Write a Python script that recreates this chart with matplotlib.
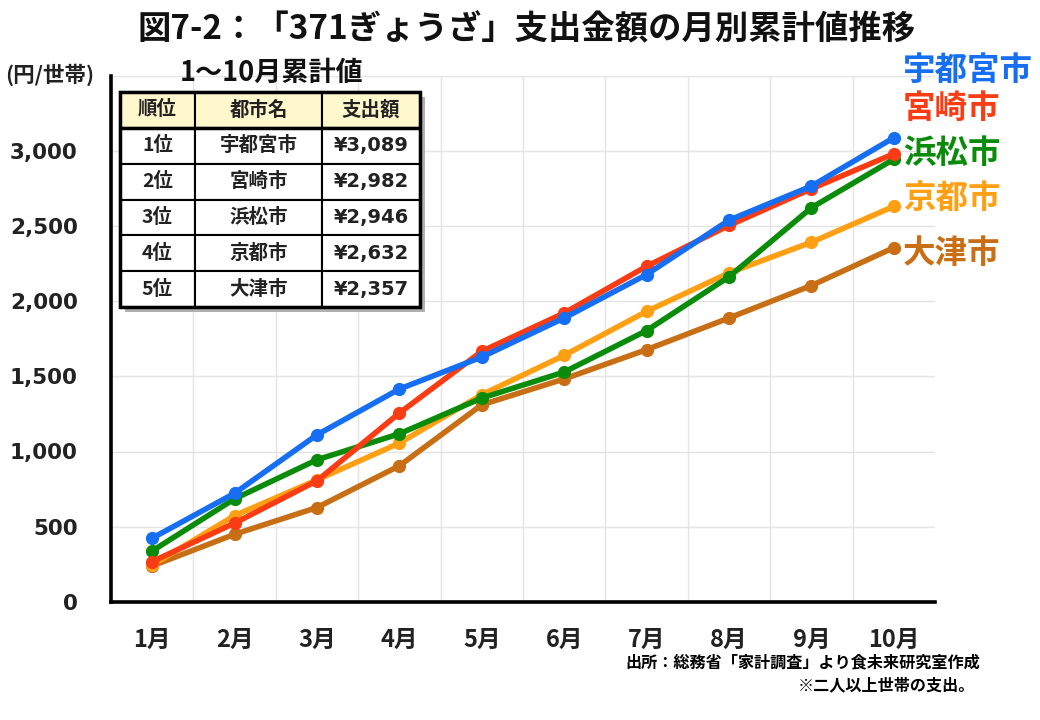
import numpy as np
import matplotlib.pyplot as plt
from matplotlib.patches import Rectangle

plt.rcParams['font.family'] = ['Noto Sans CJK JP', 'DejaVu Sans']
plt.rcParams['font.weight'] = 'bold'

#%% data
months = ['1月', '2月', '3月', '4月', '5月', '6月', '7月', '8月', '9月', '10月']
cities = ['宇都宮市', '宮崎市', '浜松市', '京都市', '大津市']
utsunomiya = [423, 722, 1111, 1416, 1629, 1889, 2178, 2540, 2767, 3089]
miyazaki   = [267, 523, 805, 1256, 1667, 1922, 2233, 2505, 2749, 2982]
hamamatsu  = [338, 685, 945, 1118, 1356, 1529, 1805, 2163, 2623, 2946]
kyoto      = [244, 573, 811, 1056, 1378, 1640, 1933, 2189, 2393, 2632]
otsu       = [238, 449, 627, 905, 1311, 1483, 1678, 1889, 2105, 2357]
series = [utsunomiya, miyazaki, hamamatsu, kyoto, otsu]
colors = ['#166ef2', '#fa3c14', '#0a8c0a', '#ffa014', '#c86e14']

ranks = ['1位', '2位', '3位', '4位', '5位']
totals = ['¥3,089', '¥2,982', '¥2,946', '¥2,632', '¥2,357']
label_y = [70, 108, 153, 198, 253]   # pixel rows of the city labels on the right

#%% figure
fig = plt.figure(figsize=(10.4, 7.2), dpi=100)
ax = fig.add_axes([111/1040, 1-601.7/720, (935-111)/1040, (601.7-76)/720])

x = np.arange(len(months))
# draw bottom-ranked first so the top city ends up on top
for vals, col in reversed(list(zip(series, colors))):
    ax.plot(x, vals, color=col, lw=4, marker='o', ms=8.5, solid_capstyle='round')

ax.set_xlim(-0.5, 9.5)
ax.set_ylim(0, 3500)
ax.set_yticks(np.arange(0, 3001, 500))
ax.set_yticklabels(['0', '500', '1,000', '1,500', '2,000', '2,500', '3,000'],
                   family='DejaVu Sans', fontsize=15.5, fontweight='bold', color='#222222')
ax.set_xticks(x)
ax.set_xticklabels(months, fontsize=17, fontweight='bold', color='#222222')
ax.tick_params(axis='y', length=0, pad=24)
ax.tick_params(axis='x', length=0, pad=19)

# grid: vertical lines between months, horizontal every 500 up to 3500
for b in np.arange(0.5, 9.5, 1):
    ax.axvline(b, color='#e4e4e4', lw=1, zorder=0)
for g in np.arange(500, 3501, 500):
    ax.axhline(g, color='#e4e4e4', lw=1, zorder=0)

for s in ['top', 'right']:
    ax.spines[s].set_visible(False)
for s in ['left', 'bottom']:
    ax.spines[s].set_linewidth(2.6)
    ax.spines[s].set_color('black')

# city labels on the right
for name, col, py in zip(cities, colors, label_y):
    fig.text(903/1040, 1-py/720, name, color=col, fontsize=23.4, fontweight='bold',
             ha='left', va='center')

#%% texts
fig.text(527/1040, 1-30/720, '図7-2：「371ぎょうざ」支出金額の月別累計値推移',
         fontsize=24, fontweight='bold', ha='center', va='center', color='#111111')
fig.text(5/1040, 1-75/720, '(円/世帯)', fontsize=15.5, fontweight='bold',
         ha='left', va='center', color='#222222')
fig.text(272/1040, 1-73/720, '1～10月累計値', fontsize=19.5, fontweight='bold',
         ha='center', va='center', color='#111111')
fig.text(980/1040, 1-662/720, '出所：総務省「家計調査」より食未来研究室作成',
         fontsize=11.6, fontweight='bold', ha='right', va='center')
fig.text(975/1040, 1-685/720, '※二人以上世帯の支出。',
         fontsize=11.6, fontweight='bold', ha='right', va='center')

#%% ranking table
tl, tr, tt, tb = 120, 420, 92, 307
# shadow
fig.patches.append(Rectangle(((tl+5)/1040, 1-(tb+5)/720), (tr-tl)/1040, (tb-tt)/720,
                             transform=fig.transFigure, facecolor='#b0b0b0',
                             edgecolor='none', zorder=4))
tax = fig.add_axes([tl/1040, 1-tb/720, (tr-tl)/1040, (tb-tt)/720], zorder=5)
tax.axis('off')
cell_text = [[r, c, t] for r, c, t in zip(ranks, cities, totals)]
tbl = tax.table(cellText=cell_text, colLabels=['順位', '都市名', '支出額'],
                colWidths=[75, 127, 98], bbox=[0, 0, 1, 1], cellLoc='center')
tbl.auto_set_font_size(False)
for (r, c), cell in tbl.get_celld().items():
    cell.set_linewidth(1.5)
    cell.set_edgecolor('black')
    txt = cell.get_text()
    txt.set_fontsize(14)
    txt.set_fontweight('bold')
    txt.set_color('#222222')
    if r == 0:
        cell.set_facecolor('#fff8cc')
    else:
        cell.set_facecolor('white')
    if c == 2 and r > 0:
        txt.set_family(['DejaVu Sans'])
tax.add_patch(Rectangle((0, 0), 1, 1, transform=tax.transAxes, fill=False,
                        edgecolor='black', lw=2.5, clip_on=False))
tax.plot([0, 1], [5/6, 5/6], transform=tax.transAxes, color='black', lw=2.5)

fig.savefig('out.png', dpi=100)
